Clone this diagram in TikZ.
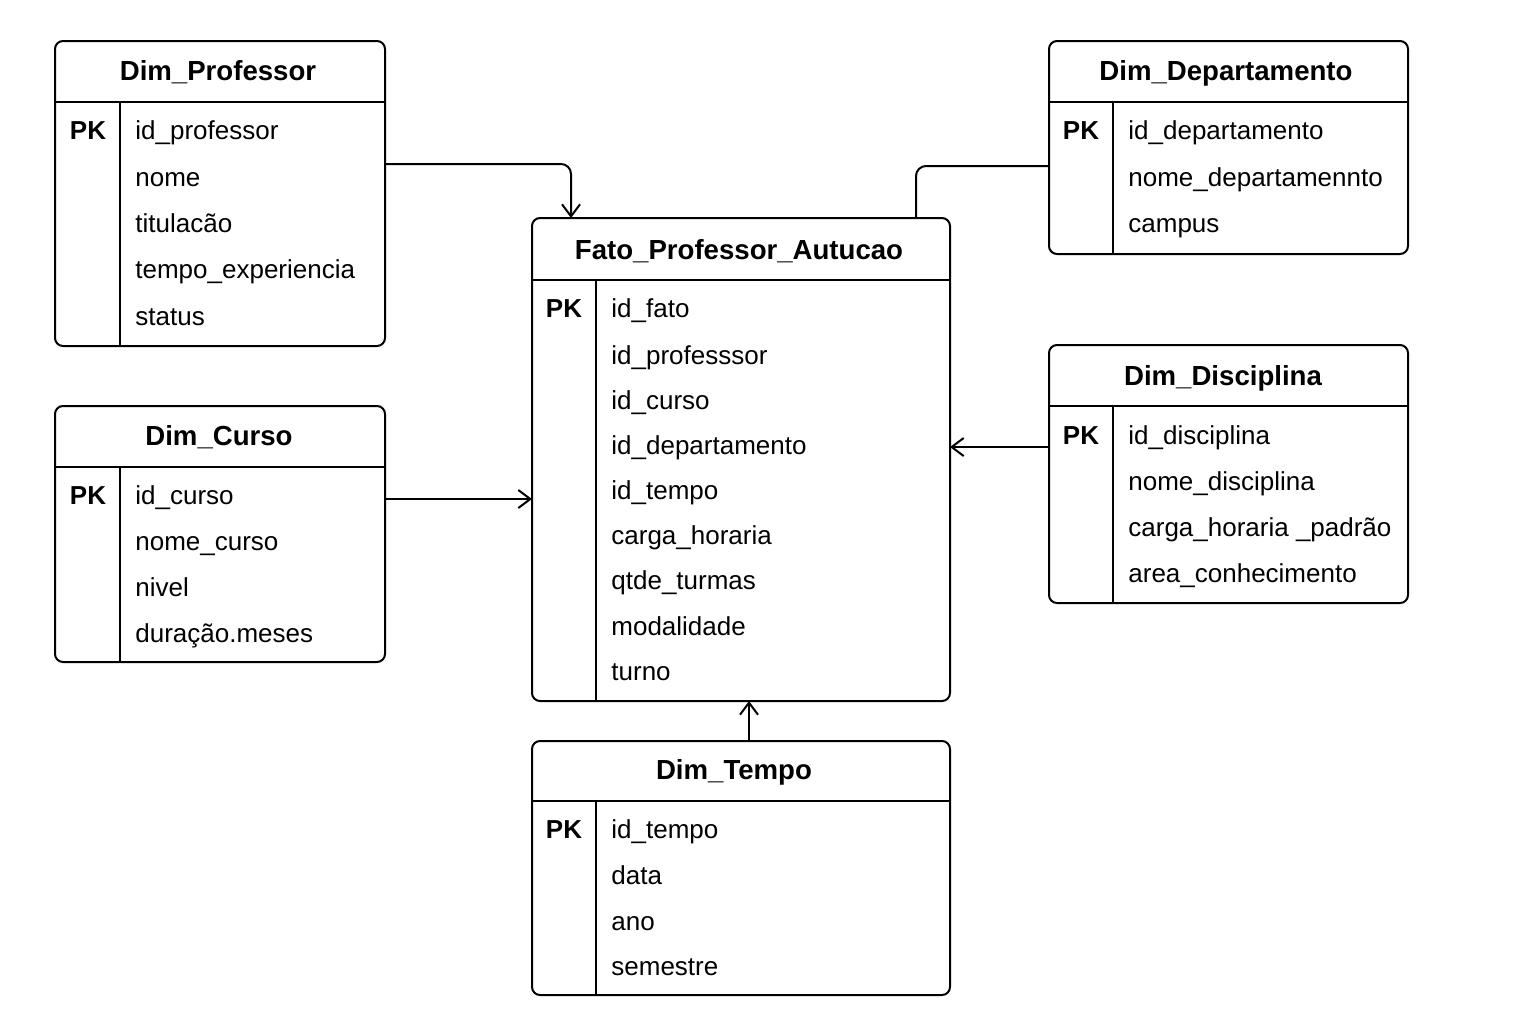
\documentclass[tikz,border=0pt]{standalone}
\usepackage{fontspec}
\setmainfont{Liberation Sans}
\usetikzlibrary{arrows.meta}
\tikzset{
  tablebox/.style={draw, line width=1pt, rounded corners=4pt, inner sep=0pt, outer sep=0pt, fill=white},
  rule/.style={line width=1pt},
  title/.style={font=\fontsize{13.8pt}{16pt}\selectfont\bfseries, inner sep=0pt, anchor=center, text height=1.5ex, text depth=0.45ex, yshift=-2pt},
  pk/.style={font=\fontsize{13pt}{15pt}\selectfont\bfseries, inner sep=0pt, anchor=center, text height=1.5ex, text depth=0.45ex, yshift=-2pt},
  field/.style={font=\fontsize{13pt}{15pt}\selectfont, inner sep=0pt, anchor=west, text height=1.5ex, text depth=0.45ex, yshift=-2pt},
  conn/.style={line width=1pt, rounded corners=5pt},
  tip/.style={-{Straight Barb[length=6pt,width=9pt,line width=1pt]}}
}
\newcommand{\dbtable}[7]{%
  \node[tablebox, minimum width={(#4-#2)*0.5pt}, minimum height={(#5-#3)*0.5pt}, anchor=north west] (#1) at (#2,#3) {};
  \draw[rule] (#2,#6) -- (#4,#6);
  \draw[rule] (#7,#6) -- (#7,#5);
}
\begin{document}
\begin{tikzpicture}[x=0.5pt,y=-0.5pt]
\useasboundingbox (0,0) rectangle (1536,1024);

% Dim_Professor
\dbtable{prof}{55}{41}{385}{346}{102}{120}
\node[title] (profT) at (218,71) {Dim\_Professor};
\node[pk] (profPK) at (88,130) {PK};
\node[field] (prof1) at (135,130) {id\_professor};
\node[field] (prof2) at (135,177) {nome};
\node[field] (prof3) at (135,223) {titulacão};
\node[field] (prof4) at (135,269) {tempo\_experiencia};
\node[field] (prof5) at (135,316) {status};

% Dim_Curso
\dbtable{curso}{55}{406}{385}{662}{467}{120}
\node[title] (cursoT) at (219,436) {Dim\_Curso};
\node[pk] (cursoPK) at (88,495) {PK};
\node[field] (curso1) at (135,495) {id\_curso};
\node[field] (curso2) at (135,541) {nome\_curso};
\node[field] (curso3) at (135,587) {nivel};
\node[field] (curso4) at (135,633) {duração.meses};

% Fato
\dbtable{fato}{532}{218}{950}{701}{280}{596}
\node[title] (fatoT) at (739,250) {Fato\_Professor\_Autucao};
\node[pk] (fatoPK) at (564,308) {PK};
\node[field] (fato1) at (611,308) {id\_fato};
\node[field] (fato2) at (611,355) {id\_professsor};
\node[field] (fato3) at (611,400) {id\_curso};
\node[field] (fato4) at (611,445) {id\_departamento};
\node[field] (fato5) at (611,490) {id\_tempo};
\node[field] (fato6) at (611,535) {carga\_horaria};
\node[field] (fato7) at (611,580) {qtde\_turmas};
\node[field] (fato8) at (611,626) {modalidade};
\node[field] (fato9) at (611,671) {turno};

% Dim_Departamento
\dbtable{dep}{1049}{41}{1408}{254}{102}{1113}
\node[title] (depT) at (1226,71) {Dim\_Departamento};
\node[pk] (depPK) at (1081,130) {PK};
\node[field] (dep1) at (1128,130) {id\_departamento};
\node[field] (dep2) at (1128,177) {nome\_departamennto};
\node[field] (dep3) at (1128,223) {campus};

% Dim_Disciplina
\dbtable{disc}{1049}{345}{1408}{603}{406}{1113}
\node[title] (discT) at (1223,376) {Dim\_Disciplina};
\node[pk] (discPK) at (1081,435) {PK};
\node[field] (disc1) at (1128,435) {id\_disciplina};
\node[field] (disc2) at (1128,481) {nome\_disciplina};
\node[field] (disc3) at (1128,527) {carga\_horaria \_padrão};
\node[field] (disc4) at (1128,573) {area\_conhecimento};

% Dim_Tempo
\dbtable{tempo}{532}{741}{950}{995}{801}{596}
\node[title] (tempoT) at (734,770) {Dim\_Tempo};
\node[pk] (tempoPK) at (564,829) {PK};
\node[field] (tempo1) at (611,829) {id\_tempo};
\node[field] (tempo2) at (611,875) {data};
\node[field] (tempo3) at (611,921) {ano};
\node[field] (tempo4) at (611,966) {semestre};

% Connectors
\draw[conn, tip] (prof.east |- 0,164) -- (571,164) -- (571,0 |- fato.north);
\draw[conn] (dep.west |- 0,166) -- (916,166) -- (916,0 |- fato.north);
\draw[conn, tip] (curso.east |- 0,499) -- (fato.west |- 0,499);
\draw[conn, tip] (disc.west |- 0,447) -- (fato.east |- 0,447);
\draw[conn, tip] (749,0 |- tempo.north) -- (749,0 |- fato.south);
\end{tikzpicture}
\end{document}
